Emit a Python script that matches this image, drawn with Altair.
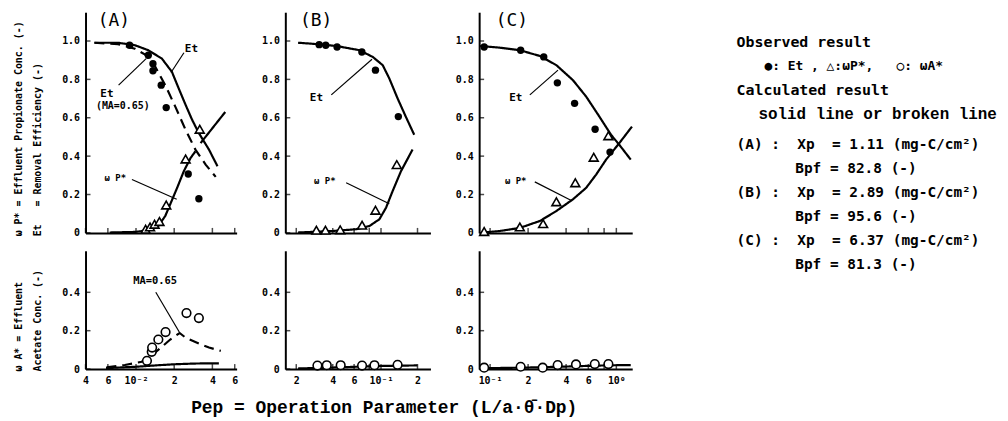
import altair as alt
import pandas as pd

MONO = "DejaVu Sans Mono"
TYPE = "Liberation Mono"
NB = "\u00a0"

# ---------------- Panel (A) ----------------
A_et_obs_x = [0.0089, 0.0125, 0.0136, 0.0136, 0.0158, 0.0173, 0.0258, 0.0313]
A_et_obs_y = [0.978, 0.926, 0.882, 0.845, 0.770, 0.653, 0.307, 0.178]
A_wp_obs_x = [0.0119, 0.0129, 0.0140, 0.0153, 0.0173, 0.0246, 0.0318]
A_wp_obs_y = [0.019, 0.031, 0.045, 0.059, 0.145, 0.385, 0.540]
A_wa_obs_x = [0.0122, 0.0133, 0.0134, 0.0150, 0.0171, 0.0250, 0.0313]
A_wa_obs_y = [0.043, 0.090, 0.112, 0.154, 0.193, 0.292, 0.266]
A_et_calc_x = [0.0047, 0.0072, 0.0098, 0.0125, 0.0160, 0.0192, 0.0217, 0.0246, 0.0277, 0.0313, 0.0376, 0.0439]
A_et_calc_y = [0.991, 0.991, 0.978, 0.952, 0.908, 0.839, 0.753, 0.667, 0.589, 0.520, 0.434, 0.347]
A_et_ma_x = [0.0047, 0.0072, 0.0098, 0.0118, 0.0142, 0.0170, 0.0204, 0.0246, 0.0294, 0.0354, 0.0425]
A_et_ma_y = [0.991, 0.984, 0.960, 0.929, 0.865, 0.770, 0.658, 0.537, 0.434, 0.356, 0.292]
A_wp_calc_x = [0.0062, 0.0098, 0.0125, 0.0150, 0.0170, 0.0186, 0.0211, 0.0238, 0.0269, 0.0294]
A_wp_calc_y = [0.002, 0.005, 0.014, 0.036, 0.088, 0.149, 0.235, 0.321, 0.390, 0.425]
A_wp_calc2_x = [0.0323, 0.0505]
A_wp_calc2_y = [0.468, 0.630]
A_wa_ma_x = [0.00585, 0.00816, 0.0111, 0.01334, 0.0160, 0.01862, 0.02208, 0.02455, 0.0313, 0.0376, 0.0466]
A_wa_ma_y = [0.009, 0.021, 0.038, 0.073, 0.116, 0.154, 0.188, 0.164, 0.133, 0.112, 0.095]
A_wa_calc_x = [0.0058, 0.010, 0.015, 0.020, 0.030, 0.045]
A_wa_calc_y = [0.005, 0.012, 0.020, 0.025, 0.029, 0.030]

# ---------------- Panel (B) ----------------
B_et_obs_x = [0.0309, 0.0350, 0.0434, 0.0695, 0.0900, 0.139]
B_et_obs_y = [0.981, 0.978, 0.969, 0.943, 0.848, 0.606]
B_wp_obs_x = [0.0293, 0.0348, 0.0461, 0.0698, 0.0900, 0.135]
B_wp_obs_y = [0.014, 0.014, 0.016, 0.040, 0.118, 0.356]
B_wa_obs_x = [0.0299, 0.0357, 0.0465, 0.0698, 0.0883, 0.137]
B_wa_obs_y = [0.018, 0.020, 0.020, 0.018, 0.020, 0.022]
B_et_calc_x = [0.0207, 0.0293, 0.0428, 0.0665, 0.0855, 0.1033, 0.117, 0.137, 0.160, 0.188]
B_et_calc_y = [0.991, 0.984, 0.974, 0.952, 0.917, 0.874, 0.805, 0.701, 0.606, 0.511]
B_wp_calc_x = [0.0207, 0.0402, 0.0624, 0.0804, 0.097, 0.110, 0.1247, 0.146, 0.182]
B_wp_calc_y = [0.002, 0.010, 0.019, 0.036, 0.071, 0.131, 0.218, 0.321, 0.434]
B_wa_calc_x = [0.0207, 0.040, 0.070, 0.100, 0.150, 0.200]
B_wa_calc_y = [0.003, 0.008, 0.013, 0.016, 0.018, 0.019]

# ---------------- Panel (C) ----------------
C_et_obs_x = [0.0897, 0.1746, 0.266, 0.341, 0.467, 0.679, 0.891]
C_et_obs_y = [0.969, 0.952, 0.917, 0.782, 0.675, 0.540, 0.421]
C_wp_obs_x = [0.0897, 0.172, 0.263, 0.335, 0.473, 0.662, 0.865]
C_wp_obs_y = [0.007, 0.031, 0.048, 0.162, 0.261, 0.394, 0.506]
C_wa_obs_x = [0.0897, 0.1746, 0.261, 0.343, 0.479, 0.675, 0.865]
C_wa_obs_y = [0.007, 0.012, 0.007, 0.021, 0.024, 0.026, 0.026]
C_et_calc_x = [0.0834, 0.12, 0.172, 0.248, 0.335, 0.453, 0.577, 0.734, 0.908, 1.056, 1.30]
C_et_calc_y = [0.974, 0.965, 0.952, 0.922, 0.874, 0.796, 0.710, 0.606, 0.511, 0.459, 0.382]
C_wp_calc_x = [0.0886, 0.12, 0.172, 0.248, 0.335, 0.453, 0.577, 0.692, 0.830, 1.056, 1.33]
C_wp_calc_y = [0.002, 0.010, 0.026, 0.062, 0.114, 0.175, 0.235, 0.304, 0.382, 0.468, 0.554]
C_wa_calc_x = [0.0834, 0.20, 0.40, 0.70, 1.00, 1.30]
C_wa_calc_y = [0.004, 0.008, 0.013, 0.018, 0.020, 0.021]

# ---------------- axes ----------------
A_xticks = [0.004, 0.006, 0.01, 0.02, 0.04, 0.06]
A_xlabels = ["4", "6", "10⁻²", "2", "4", "6"]
B_xticks = [0.02, 0.04, 0.06, 0.08, 0.1, 0.2]
B_xlabels = ["2", "4", "6", "", "10⁻¹", "2"]
C_xticks = [0.1, 0.2, 0.4, 0.6, 0.8, 1.0]
C_xlabels = ["10⁻¹", "2", "4", "6", "", "10⁰"]
TOP_yticks = [0, 0.2, 0.4, 0.6, 0.8, 1.0]
TOP_ylabels = ["0", "0.2", "0.4", "0.6", "0.8", "1.0"]
BOT_yticks = [0, 0.2, 0.4]
BOT_ylabels = ["0", "0.2", "0.4"]

A_xdom = [0.004, 0.0621]
B_xdom = [0.01625, 0.2557]
C_xdom = [0.0819, 1.336]
TOP_ydom = [0, 1.15]
BOT_ydom = [0, 0.6165]

# ---------------- annotations ----------------
A_top_notes = [(0.02733, 0.9585, "Et", 11), (0.005895, 0.725, "Et", 11),
               (0.007865, 0.663, "(MA=0.65)", 10), (0.006871, 0.2865, "ω P*", 9)]
A_top_leaders = [([0.02386, 0.01888], [0.939, 0.836]),
                 ([0.00729, 0.01202], [0.770, 0.908]),
                 ([0.00929, 0.02092], [0.278, 0.175])]
A_bot_notes = [(0.01415, 0.461, "MA=0.65", 10.5)]
A_bot_leaders = [([0.01432, 0.02193], [0.400, 0.193])]
B_top_notes = [(0.02934, 0.701, "Et", 11), (0.03437, 0.269, "ω P*", 9)]
B_top_leaders = [([0.0389, 0.0843], [0.719, 0.905]), ([0.0516, 0.117], [0.261, 0.152])]
C_top_notes = [(0.1596, 0.701, "Et", 11), (0.1596, 0.269, "ω P*", 9)]
C_top_leaders = [([0.2065, 0.345], [0.719, 0.848]), ([0.226, 0.448], [0.266, 0.166])]
PANEL_LABELS = {"A": (0.00669, 1.104, "(A)"), "B": (0.02917, 1.104, "(B)"), "C": (0.149, 1.104, "(C)")}

LEGEND_HEAD = ["Observed result", "●: Et , △:ωP*,   ○: ωA*", "Calculated result", "solid line or broken line"]
LEGEND_XP = ["(A) :  Xp  = 1.11 (mg-C/cm²)", "(B) :  Xp  = 2.89 (mg-C/cm²)", "(C) :  Xp  = 6.37 (mg-C/cm²)"]
LEGEND_BP = ["Bpf = 82.8 (-)", "Bpf = 95.6 (-)", "Bpf = 81.3 (-)"]

X_TITLE = "Pep = Operation Parameter (L/a·θ\u0304·Dp)"
TOP_YTITLE = ["ω P* = Effluent Propionate Conc. (-)", "Et   = Removal Efficiency (-)"]
BOT_YTITLE = ["ω A* = Effluent", "Acetate Conc. (-)"]


def nb(s):
    return s.replace(" ", NB)


def label_expr(vals, labs):
    expr = "''"
    for v, l in reversed(list(zip(vals, labs))):
        tol = max(abs(v) * 1e-3, 1e-9)
        expr = f"abs(datum.value - {v}) < {tol} ? '{l}' : ({expr})"
    return expr


def series_df(series):
    rows = []
    for k, (xs, ys, st) in enumerate(series):
        for x, y in zip(xs, ys):
            rows.append({"x": x, "y": y, "seg": k, "style": st})
    return pd.DataFrame(rows)


def panel(xdom, ydom, w, h, xticks, xlabels, yticks, ylabels, show_xlab,
          curves, filled=None, tri=None, opn=None, notes=None, leaders=None,
          plabel=None, ytitle=None, ytitleY=0, xtitle=None, xtitleX=0):
    xs = alt.Scale(type="log", domain=xdom, nice=False)
    ys = alt.Scale(domain=ydom, nice=False, zero=False)
    xa_kw = dict(values=xticks, labelExpr=label_expr(xticks, xlabels), labels=show_xlab,
                 ticks=False, grid=False, domainColor="black", domainWidth=2,
                 labelFont=MONO, labelFontSize=10, labelFontWeight="bold", labelColor="black",
                 labelPadding=7, labelFlush=False, labelOverlap=False)
    if xtitle:
        xa = alt.Axis(title=xtitle, titleX=xtitleX, titleY=39, titleAlign="center",
                      titleBaseline="middle", titleFont=TYPE, titleFontSize=18,
                      titleFontWeight="bold", titleColor="black", **xa_kw)
    else:
        xa = alt.Axis(title=None, **xa_kw)
    ya_kw = dict(values=yticks, labelExpr=label_expr(yticks, ylabels), ticks=False, grid=False,
                 domainColor="black", domainWidth=2, labelFont=MONO, labelFontSize=10,
                 labelFontWeight="bold", labelColor="black", labelPadding=6, labelOverlap=False)
    if ytitle:
        ya = alt.Axis(title=[nb(t) for t in ytitle], titleX=-72, titleY=ytitleY, titleAngle=270,
                      titleAlign="left", titleBaseline="top", titleFont=MONO, titleFontSize=10,
                      titleFontWeight="bold", titleLineHeight=19, titleColor="black", **ya_kw)
    else:
        ya = alt.Axis(title=None, **ya_kw)

    X = lambda: alt.X("x:Q", scale=xs, axis=xa)
    Y = lambda: alt.Y("y:Q", scale=ys, axis=ya)

    layers = []
    layers.append(alt.Chart(series_df(curves)).mark_line(color="black", strokeWidth=2.2).encode(
        x=X(), y=Y(), detail="seg:N",
        strokeDash=alt.StrokeDash("style:N", legend=None,
                                  scale=alt.Scale(domain=["solid", "dashed"], range=[[1, 0], [10, 6]]))))
    if leaders:
        layers.append(alt.Chart(series_df([(a, b, "solid") for a, b in leaders])).mark_line(
            color="black", strokeWidth=1.2).encode(x=X(), y=Y(), detail="seg:N"))
    # inward ticks on both axes
    layers.append(alt.Chart(pd.DataFrame({"x": xticks})).mark_tick(
        orient="vertical", size=5, thickness=1.5, color="black", yOffset=-2.5).encode(
        x=X(), y=alt.YDatum(ydom[0], type="quantitative", scale=ys, axis=ya)))
    layers.append(alt.Chart(pd.DataFrame({"y": yticks})).mark_tick(
        orient="horizontal", size=5, thickness=1.5, color="black", xOffset=2.5).encode(
        y=Y(), x=alt.XDatum(xdom[0], type="quantitative", scale=xs, axis=xa)))
    if opn:
        layers.append(alt.Chart(pd.DataFrame({"x": opn[0], "y": opn[1]})).mark_point(
            shape="circle", filled=True, fill="white", stroke="black", strokeWidth=1.6,
            size=75, opacity=1).encode(x=X(), y=Y()))
    if tri:
        layers.append(alt.Chart(pd.DataFrame({"x": tri[0], "y": tri[1]})).mark_point(
            shape="triangle-up", filled=True, fill="white", stroke="black", strokeWidth=1.6,
            size=80, opacity=1).encode(x=X(), y=Y()))
    if filled:
        layers.append(alt.Chart(pd.DataFrame({"x": filled[0], "y": filled[1]})).mark_point(
            shape="circle", filled=True, color="black", size=55, opacity=1).encode(x=X(), y=Y()))
    if notes:
        nd = pd.DataFrame(notes, columns=["x", "y", "t", "fs"])
        layers.append(alt.Chart(nd).mark_text(font=MONO, fontWeight="bold", color="black",
                                              baseline="middle", align="center").encode(
            x=X(), y=Y(), text="t:N", size=alt.Size("fs:Q", scale=None, legend=None)))
    if plabel:
        pd_ = pd.DataFrame([plabel], columns=["x", "y", "t"])
        layers.append(alt.Chart(pd_).mark_text(font=MONO, fontSize=18, color="black",
                                               baseline="middle", align="center").encode(
            x=X(), y=Y(), text="t:N"))
    return alt.layer(*layers).properties(width=w, height=h)


A_top = panel(A_xdom, TOP_ydom, 152, 222, A_xticks, A_xlabels, TOP_yticks, TOP_ylabels, False,
              [(A_et_calc_x, A_et_calc_y, "solid"), (A_et_ma_x, A_et_ma_y, "dashed"),
               (A_wp_calc_x, A_wp_calc_y, "solid"), (A_wp_calc2_x, A_wp_calc2_y, "solid")],
              filled=(A_et_obs_x, A_et_obs_y), tri=(A_wp_obs_x, A_wp_obs_y),
              notes=A_top_notes, leaders=A_top_leaders, plabel=PANEL_LABELS["A"],
              ytitle=TOP_YTITLE, ytitleY=225)
A_bot = panel(A_xdom, BOT_ydom, 152, 119, A_xticks, A_xlabels, BOT_yticks, BOT_ylabels, True,
              [(A_wa_ma_x, A_wa_ma_y, "dashed"), (A_wa_calc_x, A_wa_calc_y, "solid")],
              opn=(A_wa_obs_x, A_wa_obs_y), notes=A_bot_notes, leaders=A_bot_leaders,
              ytitle=BOT_YTITLE, ytitleY=121)
B_top = panel(B_xdom, TOP_ydom, 146, 222, B_xticks, B_xlabels, TOP_yticks, TOP_ylabels, False,
              [(B_et_calc_x, B_et_calc_y, "solid"), (B_wp_calc_x, B_wp_calc_y, "solid")],
              filled=(B_et_obs_x, B_et_obs_y), tri=(B_wp_obs_x, B_wp_obs_y),
              notes=B_top_notes, leaders=B_top_leaders, plabel=PANEL_LABELS["B"])
B_bot = panel(B_xdom, BOT_ydom, 146, 119, B_xticks, B_xlabels, BOT_yticks, BOT_ylabels, True,
              [(B_wa_calc_x, B_wa_calc_y, "solid")], opn=(B_wa_obs_x, B_wa_obs_y),
              xtitle=X_TITLE, xtitleX=99)
C_top = panel(C_xdom, TOP_ydom, 154, 222, C_xticks, C_xlabels, TOP_yticks, TOP_ylabels, False,
              [(C_et_calc_x, C_et_calc_y, "solid"), (C_wp_calc_x, C_wp_calc_y, "solid")],
              filled=(C_et_obs_x, C_et_obs_y), tri=(C_wp_obs_x, C_wp_obs_y),
              notes=C_top_notes, leaders=C_top_leaders, plabel=PANEL_LABELS["C"])
C_bot = panel(C_xdom, BOT_ydom, 154, 119, C_xticks, C_xlabels, BOT_yticks, BOT_ylabels, True,
              [(C_wa_calc_x, C_wa_calc_y, "solid")], opn=(C_wa_obs_x, C_wa_obs_y))

# ---------------- legend / parameter block ----------------
ly = alt.Y("row:Q", scale=alt.Scale(domain=[-1.25, 8.0], reverse=True, nice=False, zero=False), axis=None)
head_df = pd.DataFrame({"row": [0, 2], "text": [nb(LEGEND_HEAD[0]), nb(LEGEND_HEAD[2])]})
sym_df = pd.DataFrame({"row": [1], "text": [nb(LEGEND_HEAD[1])]})
line_df = pd.DataFrame({"row": [3], "text": [nb(LEGEND_HEAD[3])]})
xp_df = pd.DataFrame({"row": [4, 6, 8], "text": [nb(t) for t in LEGEND_XP]})
bp_df = pd.DataFrame({"row": [5, 7, 9], "text": [nb(t) for t in LEGEND_BP]})

legend = alt.layer(
    alt.Chart(head_df).mark_text(align="left", baseline="middle", font=MONO, fontSize=15,
                                 fontWeight="bold", color="black").encode(
        x=alt.value(56), y=ly, text="text:N"),
    alt.Chart(sym_df).mark_text(align="left", baseline="middle", font=MONO, fontSize=13,
                                fontWeight="bold", color="black", dx=28).encode(
        x=alt.value(56), y=ly, text="text:N"),
    alt.Chart(line_df).mark_text(align="left", baseline="middle", font=TYPE, fontSize=16,
                                 fontWeight="bold", color="black", dx=22).encode(
        x=alt.value(56), y=ly, text="text:N"),
    alt.Chart(xp_df).mark_text(align="left", baseline="middle", font=MONO, fontSize=14.5,
                               fontWeight="bold", color="black", dy=8).encode(
        x=alt.value(56), y=ly, text="text:N"),
    alt.Chart(bp_df).mark_text(align="left", baseline="middle", font=MONO, fontSize=14.5,
                               fontWeight="bold", color="black", dy=8, dx=59).encode(
        x=alt.value(56), y=ly, text="text:N"),
).properties(width=300, height=222)

chart = alt.concat(A_top, B_top, C_top, legend, A_bot, B_bot, C_bot,
                   columns=4, spacing={"row": 18, "column": 49}, bounds="flush").properties(
    padding={"left": 5, "top": 2, "right": 2, "bottom": 2}
).configure_view(stroke=None)

chart.save("out.html", embed_options={"renderer": "svg", "actions": False})
